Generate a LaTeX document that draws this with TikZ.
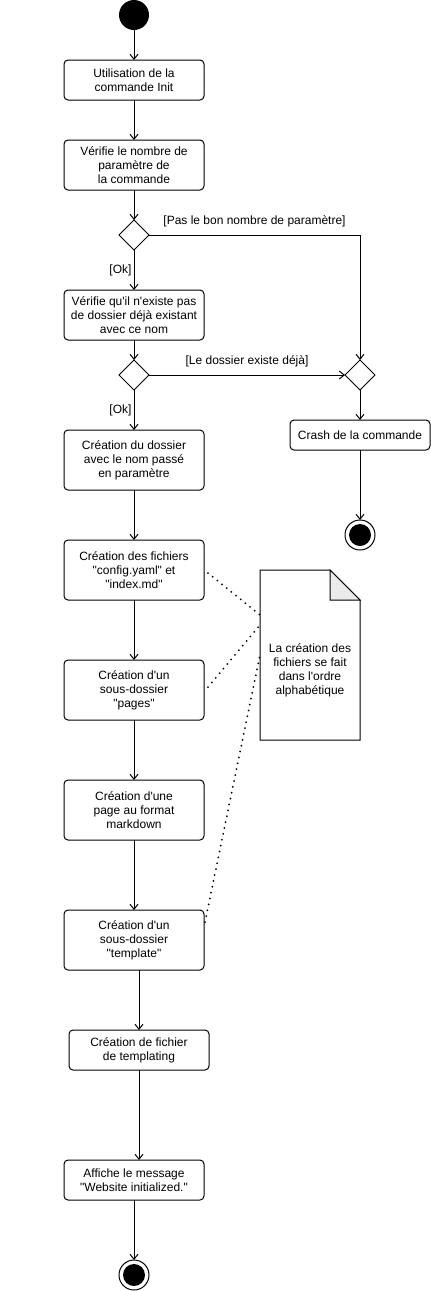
\documentclass[tikz,border=0pt]{standalone}
\usepackage{fontspec}
\setmainfont{Liberation Sans}[Ligatures=TeXOff]
\usetikzlibrary{arrows.meta,positioning,shapes.geometric}
\tikzset{
  act/.style={draw, rounded corners=4pt, minimum width=140pt, minimum height=40pt, inner sep=2pt, outer sep=0pt, align=center, line width=1pt, font=\fontsize{12}{14}\selectfont},
  dec/.style={draw, diamond, minimum size=30pt, inner sep=0pt, outer sep=0pt, line width=1pt},
  ini/.style={circle, fill=black, minimum size=30pt, inner sep=0pt, outer sep=0pt},
  fin/.style={circle, draw, line width=1pt, minimum size=30pt, inner sep=0pt, outer sep=0pt, path picture={\fill (path picture bounding box.center) circle (11pt);}},
  arr/.style={-{Straight Barb[length=5pt,width=8pt]}, line width=1pt},
  lbl/.style={inner sep=2pt, font=\fontsize{12}{14}\selectfont},
  dots/.style={line width=2pt, dash pattern=on 0pt off 6pt, line cap=round},
}
\begin{document}
\begin{tikzpicture}[x=1pt, y=-1pt]
  \useasboundingbox (0,0) rectangle (431,1291);
  \node[ini] (start) at (134,15) {};
  \node[act, below=30pt of start] (init) {Utilisation de la\\commande Init};
  \node[act, minimum height=50pt, below=40pt of init] (nbpar) {Vérifie le nombre de\\paramètre de\\la commande};
  \node[dec, below=30pt of nbpar] (d1) {};
  \node[act, minimum height=50pt, below=40pt of d1] (exist) {Vérifie qu'il n'existe pas\\de dossier déjà existant\\avec ce nom};
  \node[dec, below=20pt of exist] (d2) {};
  \node[dec, right=196pt of d2] (merge) {};
  \node[act, minimum height=30pt, below=30pt of merge] (crash) {Crash de la commande};
  \node[fin, below=70pt of crash] (endc) {};
  \node[act, minimum height=60pt, below=40pt of d2] (mkdir) {Création du dossier\\avec le nom passé\\en paramètre};
  \node[act, minimum height=60pt, below=50pt of mkdir] (files) {Création des fichiers\\"config.yaml" et\\"index.md"};
  \node[act, minimum height=60pt, below=60pt of files] (pages) {Création d'un\\sous-dossier\\"pages"};
  \node[act, minimum height=60pt, below=60pt of pages] (page) {Création d'une\\page au format\\markdown};
  \node[act, minimum height=60pt, below=70pt of page] (tpl) {Création d'un\\sous-dossier\\"template"};
  \node[act, below=60pt of tpl, xshift=5pt] (tplfile) {Création de fichier\\de templating};
  \node[act, below=90pt of tplfile, xshift=-5pt] (msg) {Affiche le message\\"Website initialized."};
  \node[fin, below=60pt of msg] (end) {};
  \node[minimum width=100pt, minimum height=170pt, inner sep=0pt, outer sep=0pt] (note) at (310,655) {};
  \draw[line width=1pt, fill=white] (note.north west) -- ([xshift=-30pt]note.north east) -- ([yshift=-30pt]note.north east) -- (note.south east) -- (note.south west) -- cycle;
  \filldraw[line width=1pt, fill=black!8] ([xshift=-30pt]note.north east) -- ([xshift=-30pt,yshift=-30pt]note.north east) -- ([yshift=-30pt]note.north east) -- cycle;
  \node[lbl, align=center] (notetxt) at ([yshift=-15pt]note.center) {La création des\\fichiers se fait\\dans l'ordre\\alphabétique};
  \draw[arr] (start) -- (init);
  \draw[arr] (init) -- (nbpar);
  \draw[arr] (nbpar) -- (d1);
  \draw[arr] (d1) -- node[lbl, left] {[Ok]} (exist);
  \draw[arr] (d1.east) -- node[lbl, above=6pt] {[Pas le bon nombre de paramètre]} (d1.east -| merge) -- (merge);
  \draw[arr] (exist) -- (d2);
  \draw[arr] (d2) -- node[lbl, left] {[Ok]} (mkdir);
  \draw[arr] (d2) -- node[lbl, above=6pt] {[Le dossier existe déjà]} (merge);
  \draw[arr] (merge) -- (crash);
  \draw[arr] (crash) -- (endc);
  \draw[arr] (mkdir) -- (files);
  \draw[arr] (files) -- (pages);
  \draw[arr] (pages) -- (page);
  \draw[arr] (page) -- (tpl);
  \draw[arr] (tpl.south -| tplfile.north) -- (tplfile);
  \draw[arr] (tplfile.south) -- (tplfile.south |- msg.north);
  \draw[arr] (msg) -- (end);
  \draw[dots] ([xshift=4pt,yshift=-3pt]files.east) -- ([yshift=-45pt]note.north west);
  \draw[dots] ([xshift=4pt,yshift=3pt]pages.east) -- ([yshift=-55pt]note.north west);
  \draw[dots] ([xshift=1pt,yshift=-12pt]tpl.north east) -- (note.west);
\end{tikzpicture}
\end{document}
